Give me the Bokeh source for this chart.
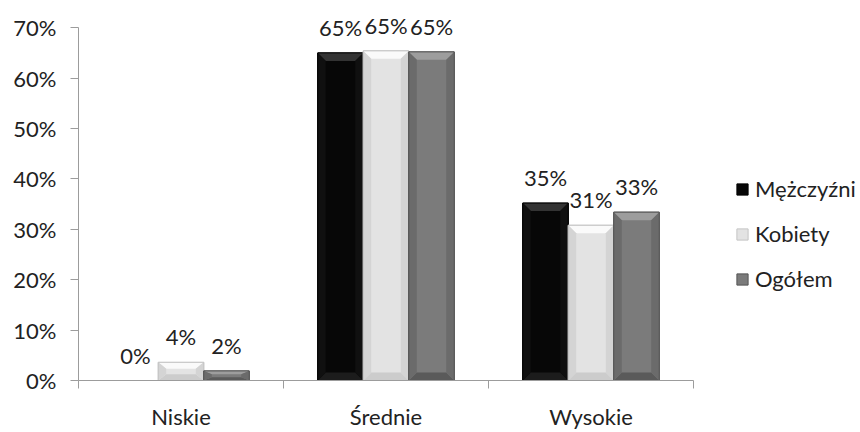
from bokeh.plotting import figure
from bokeh.models import (Range1d, FixedTicker, PrintfTickFormatter, Legend,
                          LegendItem, ColumnDataSource)
from bokeh.embed import file_html
from bokeh.resources import INLINE
from bokeh.core.properties import value

# --- data -------------------------------------------------------------
categories = ["Niskie", "Średnie", "Wysokie"]
series_names = ["Mężczyźni", "Kobiety", "Ogółem"]
mezczyzni = [0.0, 65.0, 35.2]
kobiety = [3.6, 65.4, 30.8]
ogolem = [1.9, 65.2, 33.4]
y_ticks = [0, 10, 20, 30, 40, 50, 60, 70]

# --- styling ----------------------------------------------------------
FONT = "Lato"
TEXT = "#222222"
AXIS = "#9c9c9c"
# main fill, top bevel, side bevel, bottom bevel, edge
palettes = [
    ("#070707", "#333333", "#101010", "#1c1c1c", "#000000"),
    ("#e3e3e3", "#fafafa", "#d4d4d4", "#cccccc", "#c4c4c4"),
    ("#7b7b7b", "#9d9d9d", "#6b6b6b", "#5a5a5a", "#555555"),
]
BAR_W = 0.222
offsets = [-BAR_W, 0.0, BAR_W]

W, H = 860, 432
TOP_B, BOT_B, LEFT_B = 2, 51, 78
CAT_PX = 205                      # pixel width of one category slot
N = len(categories)
Y_AXIS_MAX = 70
Y_VIEW_MAX = 75                   # headroom so value labels are not clipped
X_VIEW_MAX = (W - LEFT_B) / CAT_PX  # room on the right for the legend
px_y = (H - TOP_B - BOT_B) / Y_VIEW_MAX
px_x = CAT_PX
BEVEL = 8

p = figure(width=W, height=H, x_range=Range1d(0, X_VIEW_MAX),
           y_range=Range1d(0, Y_VIEW_MAX), output_backend="svg",
           toolbar_location=None, min_border_left=LEFT_B,
           min_border_right=0, min_border_top=TOP_B,
           min_border_bottom=BOT_B)
p.outline_line_color = None
p.grid.visible = False
p.background_fill_color = "white"
p.border_fill_color = "white"

main_renderers = []
all_series = [mezczyzni, kobiety, ogolem]
for vals, off, pal in zip(all_series, offsets, palettes):
    main, top_c, side_c, bot_c, edge = pal
    xs_c = [i + 0.5 + off for i in range(N)]
    src = ColumnDataSource(dict(x=xs_c, top=vals))
    r = p.vbar(x="x", top="top", width=BAR_W, source=src, fill_color=main,
               line_color=edge, line_width=1)
    main_renderers.append(r)

    # bevelled edges around each bar
    dx = BEVEL / px_x
    pxs, pys, cols = [], [], []
    for c, t in zip(xs_c, vals):
        if t <= 0:
            continue
        dy = min(BEVEL / px_y, t * 0.35)
        L, R = c - BAR_W / 2, c + BAR_W / 2
        pxs += [[L, R, R - dx, L + dx], [L, R, R - dx, L + dx],
                [L, L, L + dx, L + dx], [R, R, R - dx, R - dx]]
        pys += [[t, t, t - dy, t - dy], [0, 0, dy, dy],
                [0, t, t - dy, dy], [0, t, t - dy, dy]]
        cols += [top_c, bot_c, side_c, side_c]
    p.patches(xs=pxs, ys=pys, fill_color=cols, line_color=None)
    p.vbar(x="x", top="top", width=BAR_W, source=src, fill_color=None,
           line_color=edge, line_width=1)

    # value labels
    lab = ColumnDataSource(dict(x=xs_c, y=vals,
                                t=[f"{round(v)}%" for v in vals]))
    p.text(x="x", y="y", text="t", source=lab, text_align="center",
           text_baseline="bottom", y_offset=-12, text_font=value(FONT),
           text_font_size="22px", text_color=TEXT)

# --- axes ---------------------------------------------------------------
ya = p.yaxis[0]
ya.ticker = FixedTicker(ticks=y_ticks)
ya.bounds = (0, Y_AXIS_MAX)
ya.formatter = PrintfTickFormatter(format="%d%%")
ya.axis_line_color = AXIS
ya.major_tick_line_color = AXIS
ya.major_tick_out = 8
ya.major_tick_in = 0
ya.minor_tick_line_color = None
ya.major_label_standoff = 14
ya.major_label_text_font = FONT
ya.major_label_text_font_size = "22px"
ya.major_label_text_color = TEXT

xa = p.xaxis[0]
xa.ticker = FixedTicker(ticks=[i + 0.5 for i in range(N)],
                        minor_ticks=list(range(N + 1)))
xa.bounds = (0, N)
xa.major_label_overrides = {i + 0.5: c for i, c in enumerate(categories)}
xa.axis_line_color = AXIS
xa.major_tick_line_color = None
xa.major_tick_out = 0
xa.major_tick_in = 0
xa.minor_tick_line_color = AXIS
xa.minor_tick_out = 8
xa.minor_tick_in = 0
xa.major_label_standoff = 14
xa.major_label_text_font = FONT
xa.major_label_text_font_size = "22px"
xa.major_label_text_color = TEXT

# --- legend (to the right of the bars) ---------------------------------------
legend = Legend(items=[LegendItem(label=n, renderers=[r])
                       for n, r in zip(series_names, main_renderers)],
                location=(657, 88), orientation="vertical",
                glyph_width=14, glyph_height=14, label_height=20,
                spacing=18, padding=2, margin=0, border_line_color=None,
                background_fill_alpha=0, label_standoff=6,
                label_text_font=FONT, label_text_font_size="22px",
                label_text_color=TEXT)
p.add_layout(legend, "center")

open("out.html", "w").write(file_html(p, INLINE))
